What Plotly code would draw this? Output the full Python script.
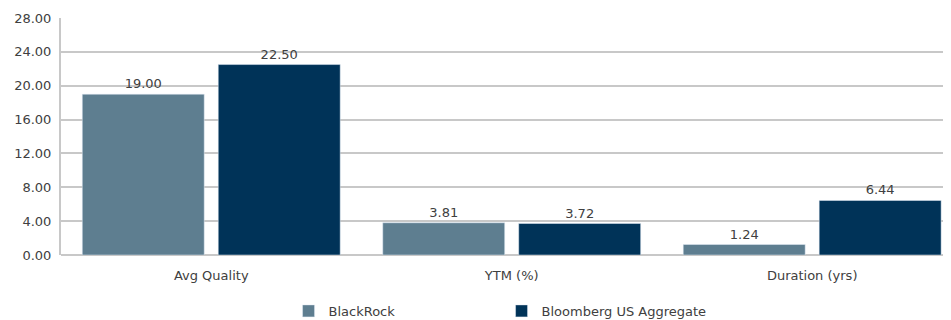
import plotly.graph_objects as go

# Portfolio characteristics
categories = ["Avg Quality", "YTM (%)", "Duration (yrs)"]
blackrock = [19.00, 3.81, 1.24]
bloomberg = [22.50, 3.72, 6.44]
y_ticks = [0, 4, 8, 12, 16, 20, 24, 28]

font_family = "'DejaVu Sans', sans-serif"
text_color = "#404040"

fig = go.Figure()
fig.add_trace(go.Bar(
    x=categories, y=blackrock, name="BlackRock",
    marker_color="#5e7e90",
    text=[f"{v:.2f}" for v in blackrock], textposition="outside",
    textfont=dict(size=13, color=text_color), cliponaxis=False,
))
fig.add_trace(go.Bar(
    x=categories, y=bloomberg, name="Bloomberg US Aggregate",
    marker_color="#003358",
    text=[f"{v:.2f}" for v in bloomberg], textposition="outside",
    textfont=dict(size=13, color=text_color), cliponaxis=False,
))

# page body adds an 8px offset, so margins are shifted to compensate
fig.update_layout(
    width=951, height=320,
    margin=dict(l=53, r=8, t=10, b=73, autoexpand=False),
    barmode="group", bargap=0.095, bargroupgap=0.103,
    plot_bgcolor="white", paper_bgcolor="white",
    font=dict(family=font_family, size=13, color=text_color),
    showlegend=True,
    legend=dict(
        orientation="h", x=0.495, xanchor="center", y=-0.236, yanchor="middle",
        entrywidth=168, font=dict(size=13, color=text_color),
    ),
)
# the plot area runs past the right edge, so the last category is slightly cut
fig.update_xaxes(
    range=[-0.5, 2.462],
    showline=False, showgrid=False, ticks="", tickfont=dict(size=13),
    automargin=False, ticklabelstandoff=11,
)
fig.update_yaxes(
    range=[0, 28], tickvals=y_ticks, tickformat=".2f",
    showgrid=True, gridcolor="#c8c8c8", gridwidth=2,
    showline=True, linecolor="#c8c8c8", linewidth=2,
    zeroline=True, zerolinecolor="#c8c8c8", zerolinewidth=2,
    ticks="", ticklabelstandoff=5, tickfont=dict(size=13),
    automargin=False,
)

fig.write_html("out.html")
